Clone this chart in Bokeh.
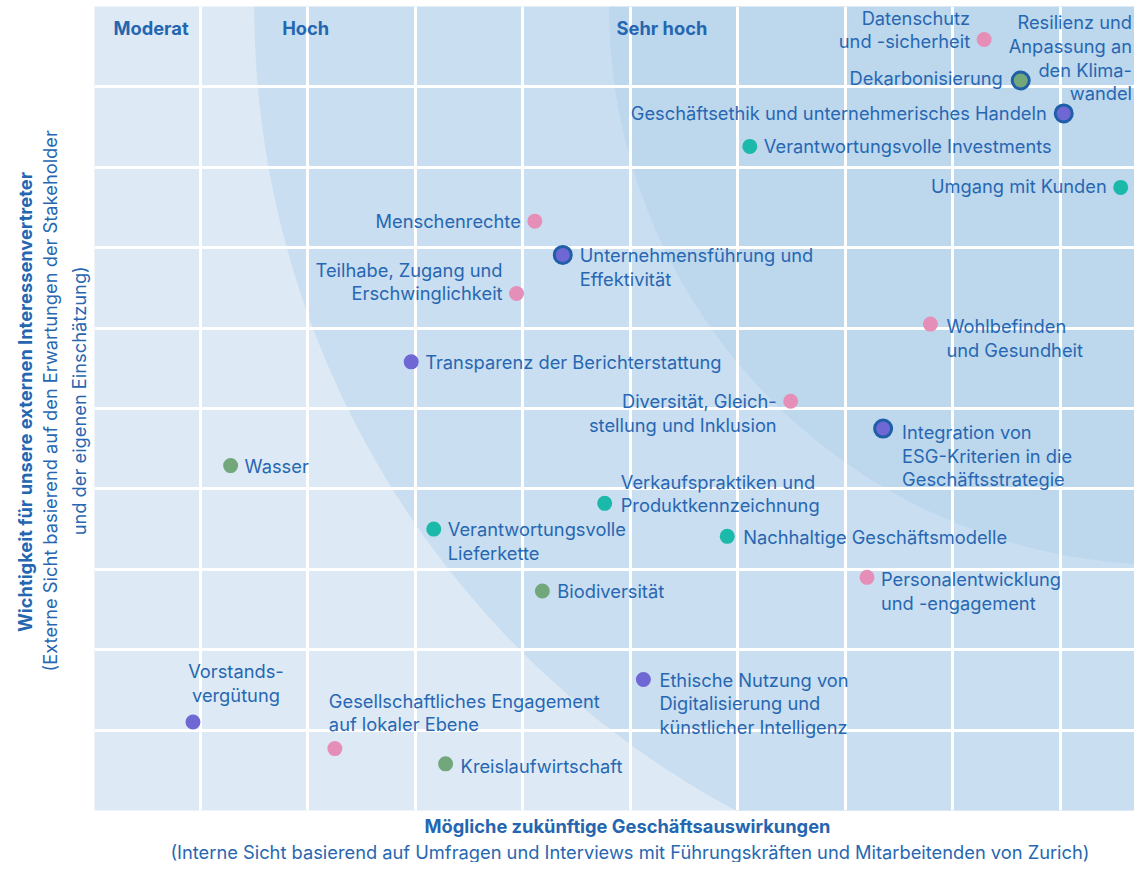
import numpy as np
from bokeh.plotting import figure
from bokeh.models import ColumnDataSource, FixedTicker, Range1d, Title
from bokeh.core.properties import value
from bokeh.embed import file_html
from bokeh.resources import INLINE

# ---------------- data ----------------
topics = [
    "Datenschutz\nund -sicherheit",
    "Resilienz und\nAnpassung an\nden Klima-\nwandel",
    "Dekarbonisierung",
    "Geschäftsethik und unternehmerisches Handeln",
    "Verantwortungsvolle Investments",
    "Umgang mit Kunden",
    "Menschenrechte",
    "Unternehmensführung und\nEffektivität",
    "Teilhabe, Zugang und\nErschwinglichkeit",
    "Wohlbefinden\nund Gesundheit",
    "Transparenz der Berichterstattung",
    "Diversität, Gleich-\nstellung und Inklusion",
    "Integration von\nESG-Kriterien in die\nGeschäftsstrategie",
    "Wasser",
    "Verkaufspraktiken und\nProduktkennzeichnung",
    "Verantwortungsvolle\nLieferkette",
    "Nachhaltige Geschäftsmodelle",
    "Personalentwicklung\nund -engagement",
    "Biodiversität",
    "Ethische Nutzung von\nDigitalisierung und\nkünstlicher Intelligenz",
    "Vorstands-\nvergütung",
    "Gesellschaftliches Engagement\nauf lokaler Ebene",
    "Kreislaufwirtschaft",
]
# Mögliche zukünftige Geschäftsauswirkungen (x)
impact = [8.29, 9.87, 8.63, 9.03, 6.11, 9.56, 4.11, 4.37, 3.94, 7.79, 2.96, 6.49,
          7.35, 1.28, 4.76, 3.17, 5.90, 7.20, 4.18, 5.12, 0.93, 2.25, 3.28]
# Wichtigkeit für externe Interessenvertreter (y)
importance = [9.59, 9.45, 9.08, 8.67, 8.26, 7.75, 7.33, 6.91, 6.43, 6.05, 5.58, 5.09,
              4.75, 4.29, 3.82, 3.50, 3.41, 2.90, 2.73, 1.63, 1.10, 0.77, 0.58]
category = ["Soziales", "Umwelt", "Umwelt", "Governance", "Kunden", "Kunden", "Soziales",
            "Governance", "Soziales", "Soziales", "Governance", "Soziales", "Governance",
            "Umwelt", "Kunden", "Kunden", "Kunden", "Soziales", "Umwelt", "Governance",
            "Governance", "Soziales", "Umwelt"]
focus = [False, False, True, True, False, False, False, True, False, False, False, False,
         True, False, False, False, False, False, False, False, False, False, False]

zone_names = ["Moderat", "Hoch", "Sehr hoch"]
zone_label_x = [0.19, 1.76, 4.87]
zone_radius = [8.5, 5.2]          # in column units, from the top-right corner (10, 10)

x_title = "Mögliche zukünftige Geschäftsauswirkungen"
x_subtitle = "(Interne Sicht basierend auf Umfragen und Interviews mit Führungskräften und Mitarbeitenden von Zurich)"
y_title = "Wichtigkeit für unsere externen Interessenvertreter"
y_subtitle = "(Externe Sicht basierend auf den Erwartungen der Stakeholder"
y_subtitle2 = "und der eigenen Einschätzung)"

# ---------------- style ----------------
cat_colors = {"Soziales": "#e58fb8", "Umwelt": "#72a77b", "Governance": "#6f67d3", "Kunden": "#1bb9a9"}
TEXT = "#2767b2"
BOLD = "#2466b0"
FONT = "Inter"
FS = 18.3
LH = 24  # px between lines

# label layout: (side, first-line offset in px relative to point, extra dx)
label_layout = [
    ("l", -22, 0), ("l", -29, 8), ("l", -2, 1), ("l", 0, 0), ("r", 0, 0), ("l", -1, 0),
    ("l", 0, 0), ("r", 0, 0), ("l", -24, 0), ("r", 2, 2), ("r", 0, 0), ("l", 0, 0),
    ("r", 3, 2), ("r", 0, 0), ("r", -22, 2), ("r", 0, 0), ("r", 1, 2), ("r", 2, 0),
    ("r", 0, 1), ("r", 0, 2), ("c", -51, 0), ("o", -48, 0), ("r", 2, 1),
]

W, H = 1134, 862
ML, MT, MB = 94, 6, 51
FW, FH = W - ML, H - MT - MB
XS = 107.5                     # px per column
X0 = 0.014
XMAX, YMAX = X0 + FW / XS, 10.0
xs_px = XS
ys_px = FH / YMAX

p = figure(width=W, height=H, output_backend="svg", toolbar_location=None,
           x_range=Range1d(X0, XMAX), y_range=Range1d(0, YMAX),
           min_border_left=ML, min_border_right=0, min_border_top=MT, min_border_bottom=MB)
p.background_fill_color = "#ddeaf6"
p.border_fill_color = "white"
p.outline_line_color = None
p.xaxis.visible = False
p.yaxis.visible = False
p.xgrid.ticker = FixedTicker(ticks=list(range(1, 10)))
p.ygrid.ticker = FixedTicker(ticks=list(range(1, 10)))
for g in (p.xgrid, p.ygrid):
    g.grid_line_color = "white"
    g.grid_line_width = 3
    g.grid_line_alpha = 1.0

# zones: circular arcs (in screen space) around the top-right corner (10, 10)
t = np.linspace(0, np.pi / 2, 300)
for r, col in zip(zone_radius, ["#c9def0", "#bdd7ed"]):
    a = r
    b = r * xs_px / ys_px
    px = list(10 - a * np.cos(t)) + [10]
    py = list(10 - b * np.sin(t)) + [10]
    p.patch(px, py, fill_color=col, line_color=None, level="image")

# zone headers
p.text(x=zone_label_x, y=[9.73] * 3, text=zone_names, text_font=value(FONT),
       text_font_size=f"{FS}px", text_font_style="bold", text_color=BOLD,
       text_align="left", text_baseline="middle")

# points
plain = [i for i, f in enumerate(focus) if not f]
ring = [i for i, f in enumerate(focus) if f]
p.scatter(x=[impact[i] for i in plain], y=[importance[i] for i in plain], size=15,
          fill_color=[cat_colors[category[i]] for i in plain], line_color=None)
p.scatter(x=[impact[i] for i in ring], y=[importance[i] for i in ring], size=17,
          fill_color=[cat_colors[category[i]] for i in ring], line_color="#1f5fa8",
          line_width=3)

# labels
groups = {"left": dict(x=[], y=[], t=[], dx=[], dy=[]),
          "right": dict(x=[], y=[], t=[], dx=[], dy=[]),
          "center": dict(x=[], y=[], t=[], dx=[], dy=[])}
for i, name in enumerate(topics):
    side, dy0, extra = label_layout[i]
    n = name.count("\n") + 1
    gap = 14 + (3 if focus[i] else 0) + extra
    if side == "r":
        key, dx = "left", gap
    elif side == "l":
        key, dx = "right", -gap
    elif side == "c":
        key, dx = "center", 43
    else:
        key, dx = "left", -6
    g = groups[key]
    g["x"].append(impact[i]); g["y"].append(importance[i]); g["t"].append(name)
    g["dx"].append(dx); g["dy"].append(dy0 + (n - 1) * LH / 2)

for key, g in groups.items():
    s = ColumnDataSource(g)
    p.text(x="x", y="y", text="t", x_offset="dx", y_offset="dy", source=s,
           text_font=value(FONT), text_font_size=f"{FS}px", text_color=TEXT,
           text_align=key, text_baseline="middle", text_line_height=LH / (FS * 1.217))

# axis titles (first added sits nearest to the frame)
NB = "\u00a0"
def add_title(text, side, bold=False, standoff=0):
    p.add_layout(Title(text=text, align="center", text_font=FONT, text_font_size=f"{FS}px",
                       text_font_style="bold" if bold else "normal",
                       text_color=BOLD if bold else TEXT, standoff=standoff), side)

add_title(NB * 6 + x_title, "below", bold=True, standoff=4)
add_title(NB * 6 + x_subtitle, "below", standoff=0)
add_title(NB * 3 + y_subtitle2, "left", standoff=10)
add_title(NB * 3 + y_subtitle, "left", standoff=0)
add_title(NB * 3 + y_title, "left", bold=True, standoff=1)

open("out.html", "w").write(file_html(p, INLINE))
